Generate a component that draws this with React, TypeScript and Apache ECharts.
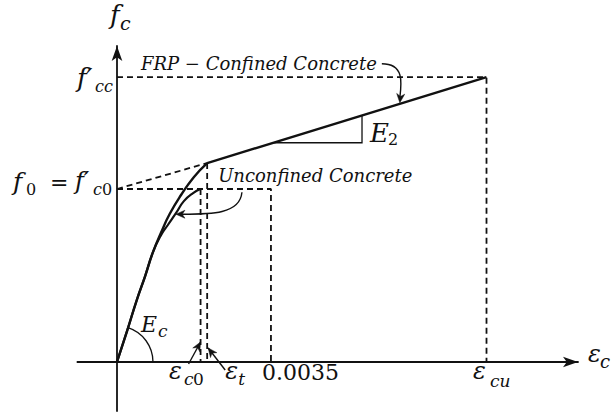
import { useEffect, useRef } from 'react';
import * as echarts from 'echarts';

// Strain marks on the horizontal axis: εc0, εt, 0.0035, εcu
const strainMarks = [0.0019, 0.00205, 0.0035, 0.0084];
const strainMarkMain = ['ε', 'ε', '0.0035', 'ε'];
const strainMarkSub = ['c0', 't', '', 'cu'];

// Stress levels (MPa)
const fc0 = 30; // f0 = f'c0
const ft = 34.5; // stress at the transition strain εt
const fcc = 49.4; // f'cc

// FRP-confined concrete: parabolic first portion [strain, stress]
const confinedCurve: number[][] = [
  [0, 0], [0.00023, 5.4], [0.00045, 10.75], [0.00064, 14.9], [0.00082, 19.1],
  [0.001, 22.4], [0.0012, 25.7], [0.00146, 29.0], [0.00175, 32.1], [0.00205, 34.5],
];
// FRP-confined concrete: linear second portion (slope E2)
const confinedLinear: number[][] = [[0.00205, 34.5], [0.0084, 49.4]];
// Unconfined concrete up to its peak
const unconfinedCurve: number[][] = [
  [0, 0], [0.00023, 5.4], [0.00045, 10.75], [0.00064, 14.9], [0.00082, 19.1],
  [0.001, 22.0], [0.00116, 23.8], [0.00134, 25.8], [0.00152, 27.9], [0.00173, 29.3], [0.0019, 30],
];

const xMin = -0.0009;
const xMax = 0.01048;
const yMin = -8.5;
const yMax = 54.8;

const FONT = '"DejaVu Serif", serif';
const INK = '#111';

const linearAt = (e: number) => {
  const [a, b] = confinedLinear;
  return a[1] + ((b[1] - a[1]) * (e - a[0])) / (b[0] - a[0]);
};

const glyph = (x: number, base: number, text: string, size: number, italic = true) => ({
  type: 'text',
  x,
  y: base - size * 0.36,
  silent: true,
  style: {
    text,
    fontSize: size,
    fontFamily: FONT,
    fontStyle: italic ? 'italic' : 'normal',
    fill: INK,
    align: 'left',
    verticalAlign: 'middle',
  },
});

const arrowHead = (tip: number[], from: number[], len = 9, hw = 4) => {
  const dx = tip[0] - from[0];
  const dy = tip[1] - from[1];
  const l = Math.hypot(dx, dy) || 1;
  const ux = dx / l, uy = dy / l;
  const nx = -uy, ny = ux;
  const bx = tip[0] - ux * len, by = tip[1] - uy * len;
  const mx = tip[0] - ux * len * 0.7, my = tip[1] - uy * len * 0.7;
  return {
    type: 'polygon',
    silent: true,
    shape: { points: [tip, [bx + nx * hw, by + ny * hw], [mx, my], [bx - nx * hw, by - ny * hw]] },
    style: { fill: INK, stroke: INK, lineWidth: 0.5 },
  };
};

const dashed = (data: number[][]) => ({
  type: 'line',
  data,
  symbol: 'none',
  silent: true,
  lineStyle: { color: INK, width: 1.8, type: [6, 4] },
});

export default function App() {
  const ref = useRef<HTMLDivElement>(null);

  useEffect(() => {
    if (!ref.current) return;
    const chart = echarts.init(ref.current, null, { renderer: 'svg' });
    const axisLine = {
      onZero: true,
      symbol: ['none', 'arrow'],
      symbolSize: [8, 15],
      lineStyle: { color: INK, width: 1.8 },
    };
    chart.setOption({
      animation: false,
      grid: { left: 77.4, right: 33, top: 46, bottom: 4 },
      xAxis: {
        type: 'value', min: xMin, max: xMax, axisLine,
        axisTick: { show: false }, axisLabel: { show: false }, splitLine: { show: false },
      },
      yAxis: {
        type: 'value', min: yMin, max: yMax, axisLine,
        axisTick: { show: false }, axisLabel: { show: false }, splitLine: { show: false },
      },
      series: [
        dashed([[0, fcc], [strainMarks[3], fcc], [strainMarks[3], 0]]),
        dashed([[0, fc0], [strainMarks[2], fc0], [strainMarks[2], 0]]),
        dashed([[strainMarks[0], fc0], [strainMarks[0], 0]]),
        dashed([[strainMarks[1], ft], [strainMarks[1], 0]]),
        dashed([[0, fc0], [strainMarks[1], ft]]),
        {
          type: 'line', data: unconfinedCurve, symbol: 'none', smooth: 0.5, silent: true,
          lineStyle: { color: INK, width: 2.2 },
        },
        {
          type: 'line', data: confinedCurve, symbol: 'none', smooth: 0.5, silent: true,
          lineStyle: { color: INK, width: 2.4 },
        },
        {
          type: 'line', data: confinedLinear, symbol: 'none', silent: true,
          lineStyle: { color: INK, width: 2.4 },
        },
      ],
    });

    const toPx = (x: number, y: number) => chart.convertToPixel({ gridIndex: 0 }, [x, y]) as number[];
    const O = toPx(0, 0);
    const yTop = toPx(0, yMax)[1];
    const xEnd = toPx(xMax, 0)[0];
    const yfcc = toPx(0, fcc)[1];
    const yfc0 = toPx(0, fc0)[1];
    const xm = strainMarks.map((s) => toPx(s, 0)[0]);

    const els: any[] = [];

    // Ec angle arc
    const p1 = toPx(confinedCurve[2][0], confinedCurve[2][1]);
    const ang = Math.atan2(p1[1] - O[1], p1[0] - O[0]);
    els.push({
      type: 'arc', silent: true,
      shape: { cx: O[0], cy: O[1], r: 36, startAngle: ang, endAngle: 0, clockwise: true },
      style: { stroke: INK, lineWidth: 1.3, fill: 'none' },
    });

    // E2 slope triangle
    const tA = toPx(0.00355, linearAt(0.00355));
    const tB = toPx(0.00557, linearAt(0.00355));
    const tC = toPx(0.00557, linearAt(0.00557));
    els.push({
      type: 'polyline', silent: true,
      shape: { points: [tA, tB, tC] },
      style: { stroke: INK, lineWidth: 1.3, fill: 'none' },
    });

    // Arrow from the FRP label to the linear branch
    const fe = toPx(0.00643, linearAt(0.00643));
    const fs = [fe[0] - 18, fe[1] - 40];
    const fc2 = [fe[0] + 2, fe[1] - 22];
    els.push({
      type: 'bezierCurve', silent: true,
      shape: { x1: fs[0], y1: fs[1], cpx1: fs[0] + 22, cpy1: fs[1], cpx2: fc2[0], cpy2: fc2[1], x2: fe[0], y2: fe[1] - 6 },
      style: { stroke: INK, lineWidth: 1.4, fill: 'none' },
    });
    els.push(arrowHead([fe[0], fe[1] - 1], [fc2[0], fc2[1]]));

    // Arrow from the unconfined label to its curve
    const ue = toPx(unconfinedCurve[7][0], unconfinedCurve[7][1]);
    const us = [ue[0] + 66, ue[1] - 21];
    els.push({
      type: 'bezierCurve', silent: true,
      shape: { x1: us[0], y1: us[1], cpx1: us[0] - 2, cpy1: us[1] + 22, cpx2: ue[0] + 35, cpy2: ue[1] + 1, x2: ue[0] + 6, y2: ue[1] + 1 },
      style: { stroke: INK, lineWidth: 1.4, fill: 'none' },
    });
    els.push(arrowHead([ue[0], ue[1] + 1], [ue[0] + 20, ue[1] + 1]));

    // Arrows pointing at εc0 and εt
    const a0 = [xm[0], O[1] - 20];
    const a0s = [xm[0] - 12, O[1] + 2];
    els.push({ type: 'line', silent: true, shape: { x1: a0s[0], y1: a0s[1], x2: a0[0], y2: a0[1] }, style: { stroke: INK, lineWidth: 1.4 } });
    els.push(arrowHead(a0, a0s));
    const a1 = [xm[1] + 1, O[1] - 14];
    const a1s = [xm[1] + 18, O[1] + 8];
    els.push({ type: 'line', silent: true, shape: { x1: a1s[0], y1: a1s[1], x2: a1[0], y2: a1[1] }, style: { stroke: INK, lineWidth: 1.4 } });
    els.push(arrowHead(a1, a1s));

    // Axis titles
    els.push(glyph(O[0] - 7, yTop - 22, 'f', 26));
    els.push(glyph(O[0] + 3, yTop - 16, 'c', 19));
    els.push(glyph(xEnd + 10, O[1] + 1, 'ε', 24));
    els.push(glyph(xEnd + 22, O[1] + 6, 'c', 18));

    // Stress level labels
    els.push(glyph(O[0] - 40, yfcc + 10, 'f′', 26));
    els.push(glyph(O[0] - 22, yfcc + 15, 'cc', 16));

    els.push(glyph(O[0] - 104, yfc0 + 1, 'f', 25));
    els.push(glyph(O[0] - 91, yfc0 + 6, '0', 16, false));
    els.push(glyph(O[0] - 67, yfc0 + 1, '=', 22, false));
    els.push(glyph(O[0] - 42, yfc0 + 1, 'f′', 24));
    els.push(glyph(O[0] - 24, yfc0 + 6, 'c', 16));
    els.push(glyph(O[0] - 15, yfc0 + 6, '0', 16, false));

    // Strain mark labels
    const mainOff = [-31.6, 18, -9, -13.6];
    const subOff = [-16.6, 31, 0, 3.4];
    const subBase = [23, 23, 0, 25];
    strainMarks.forEach((_, i) => {
      const isNum = strainMarkSub[i] === '';
      els.push(glyph(xm[i] + mainOff[i], O[1] + 18, strainMarkMain[i], isNum ? 22 : 24, !isNum));
      if (!isNum) {
        const sub = strainMarkSub[i];
        if (sub === 'c0') {
          els.push(glyph(xm[i] + subOff[i], O[1] + subBase[i], 'c', 17));
          els.push(glyph(xm[i] + subOff[i] + 9, O[1] + subBase[i], '0', 17, false));
        } else {
          els.push(glyph(xm[i] + subOff[i], O[1] + subBase[i], sub, 17));
        }
      }
    });

    // Modulus labels
    els.push(glyph(O[0] + 24, O[1] - 30, 'E', 22));
    els.push(glyph(O[0] + 41, O[1] - 25, 'c', 17));
    els.push(glyph(tC[0] + 8, tB[1], 'E', 26));
    els.push(glyph(tC[0] + 26, tB[1] + 3, '2', 16, false));

    // Curve names
    els.push(glyph(O[0] + 24, yfcc - 7, 'FRP − Confined Concrete', 18));
    els.push(glyph(xm[1] + 11, yfc0 - 7, 'Unconfined Concrete', 18));

    chart.setOption({ graphic: { elements: els } });
    return () => chart.dispose();
  }, []);

  return <div ref={ref} style={{ position: 'fixed', left: 0, top: 0, width: 611, height: 415, background: '#fff' }} />;
}
